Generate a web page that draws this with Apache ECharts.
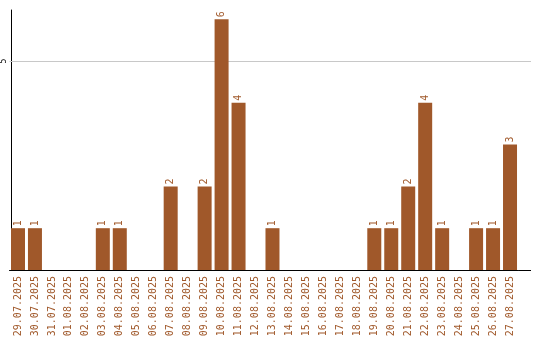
<!DOCTYPE html>
<html><head><meta charset="utf-8">
<script src="https://cdn.jsdelivr.net/npm/echarts@6/dist/echarts.min.js"></script>
<style>html,body{margin:0;padding:0;background:#fff}#c{width:540px;height:340px}</style>
</head><body><div id="c"></div>
<script>
const categories = ["29.07.2025","30.07.2025","31.07.2025","01.08.2025","02.08.2025","03.08.2025","04.08.2025","05.08.2025","06.08.2025","07.08.2025","08.08.2025","09.08.2025","10.08.2025","11.08.2025","12.08.2025","13.08.2025","14.08.2025","15.08.2025","16.08.2025","17.08.2025","18.08.2025","19.08.2025","20.08.2025","21.08.2025","22.08.2025","23.08.2025","24.08.2025","25.08.2025","26.08.2025","27.08.2025"];
const values = [1,1,0,0,0,1,1,0,0,2,0,2,6,4,0,1,0,0,0,0,0,1,1,2,4,1,0,1,1,3];
const yTicks = [5];
const brown = '#A0582A';
const chart = echarts.init(document.getElementById('c'), null, {renderer:'canvas'});
chart.setOption({
  animation:false,
  grid:{left:8.5, top:10, width:510, bottom:70, containLabel:false},
  xAxis:{type:'category', data:categories,
    axisLine:{lineStyle:{color:'#000', width:1}},
    axisTick:{show:false},
    axisLabel:{rotate:90, interval:0, color:brown, fontFamily:'DejaVu Sans Mono', fontSize:10, margin:6}
  },
  yAxis:{type:'value', min:0, max:6.22, interval:5, offset:-1.5,
    axisLine:{show:true, lineStyle:{color:'#000', width:1}},
    axisTick:{show:false},
    splitLine:{show:false},
    axisLabel:{rotate:90, color:'#000', fontFamily:'DejaVu Sans Mono', fontSize:8, margin:3,
      formatter:v=>yTicks.includes(v)?String(v):''}
  },
  series:[{type:'bar', data:values.map(v=>v===0?null:v), barWidth:14, z:3,
    itemStyle:{color:brown},
    label:{show:true, position:'top', rotate:90, align:'left', verticalAlign:'middle', distance:2,
      color:brown, fontFamily:'DejaVu Sans Mono', fontSize:10},
    markLine:{silent:true, symbol:'none', z:1, label:{show:false},
      lineStyle:{color:'#c8c8c8', width:1, type:'solid'},
      data:yTicks.map(t=>({yAxis:t}))}
  }]
});
const yBase = Math.round(chart.convertToPixel({yAxisIndex:0}, 0)) + 0.5;
const gExt = yTicks.map(t => {
  const y = Math.round(chart.convertToPixel({yAxisIndex:0}, t)) + 0.5;
  return {type:'line', z:1, shape:{x1:518, y1:y, x2:531, y2:y}, style:{stroke:'#c8c8c8', lineWidth:1}};
});
chart.setOption({graphic:[{type:'line', shape:{x1:518.5,y1:yBase,x2:531,y2:yBase}, style:{stroke:'#000', lineWidth:1}}].concat(gExt)});
</script></body></html>
